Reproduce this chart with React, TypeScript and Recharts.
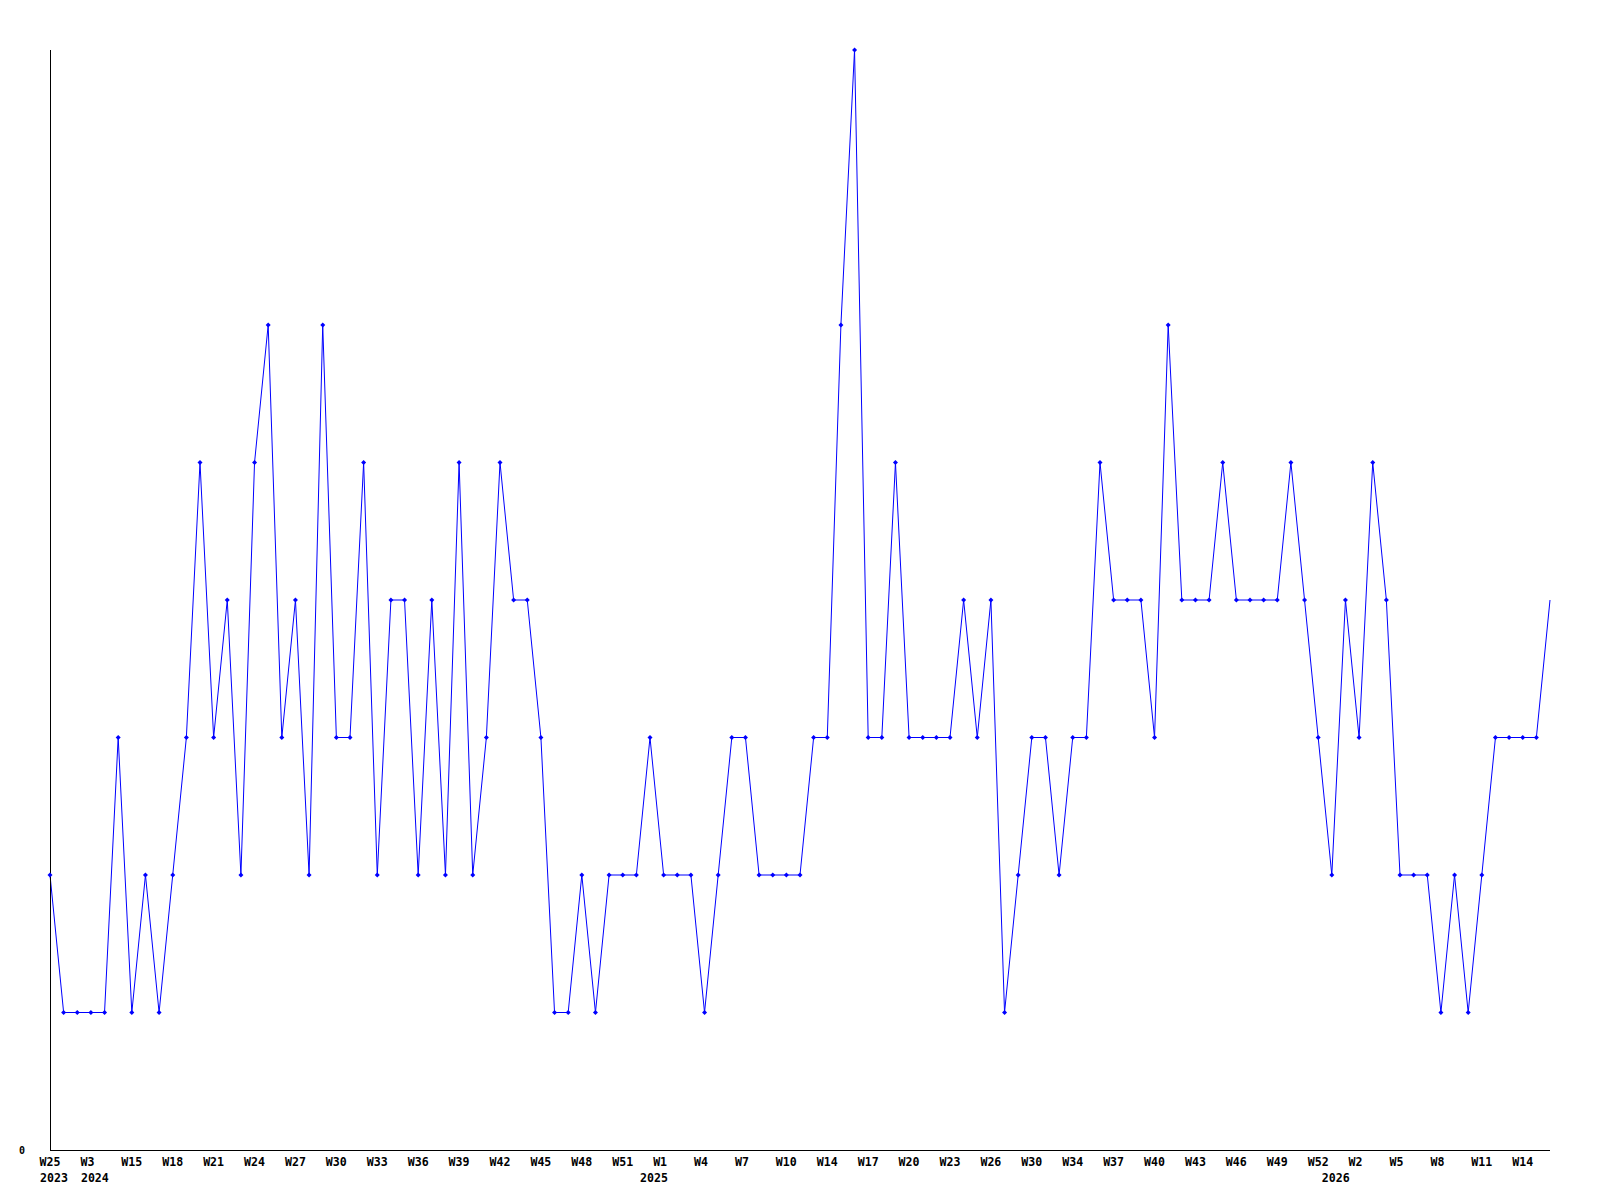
import React from "react";
import { LineChart, Line, XAxis, YAxis } from "recharts";

// Week categories (year-week), only every third is labelled on the axis
const categories: string[] = [
  "2023-W25", "2023-W30", "2023-W44",
  "2024-W3", "2024-W8", "2024-W12",
  "2024-W15", "2024-W16", "2024-W17", "2024-W18", "2024-W19", "2024-W20", "2024-W21", "2024-W22",
  "2024-W23", "2024-W24", "2024-W25", "2024-W26", "2024-W27", "2024-W28", "2024-W29", "2024-W30",
  "2024-W31", "2024-W32", "2024-W33", "2024-W34", "2024-W35", "2024-W36", "2024-W37", "2024-W38",
  "2024-W39", "2024-W40", "2024-W41", "2024-W42", "2024-W43", "2024-W44", "2024-W45", "2024-W46",
  "2024-W47", "2024-W48", "2024-W49", "2024-W50", "2024-W51", "2024-W52",
  "2025-W0", "2025-W1", "2025-W2", "2025-W3", "2025-W4", "2025-W5", "2025-W6", "2025-W7",
  "2025-W8", "2025-W9", "2025-W10", "2025-W11", "2025-W12", "2025-W14", "2025-W15", "2025-W16",
  "2025-W17", "2025-W18", "2025-W19", "2025-W20", "2025-W21", "2025-W22", "2025-W23", "2025-W24",
  "2025-W25", "2025-W26", "2025-W27", "2025-W28", "2025-W30", "2025-W31", "2025-W32", "2025-W34",
  "2025-W35", "2025-W36", "2025-W37", "2025-W38", "2025-W39", "2025-W40", "2025-W41", "2025-W42",
  "2025-W43", "2025-W44", "2025-W45", "2025-W46", "2025-W47", "2025-W48", "2025-W49", "2025-W50",
  "2025-W51", "2025-W52",
  "2026-W0", "2026-W1", "2026-W2", "2026-W3", "2026-W4", "2026-W5", "2026-W6", "2026-W7",
  "2026-W8", "2026-W9", "2026-W10", "2026-W11", "2026-W12", "2026-W13", "2026-W14", "2026-W15",
  "2026-W16",
];

const values: number[] = [
  2, 1, 1, 1, 1, 3, 1, 2, 1, 2,
  3, 5, 3, 4, 2, 5, 6, 3, 4, 2,
  6, 3, 3, 5, 2, 4, 4, 2, 4, 2,
  5, 2, 3, 5, 4, 4, 3, 1, 1, 2,
  1, 2, 2, 2, 3, 2, 2, 2, 1, 2,
  3, 3, 2, 2, 2, 2, 3, 3, 6, 8,
  3, 3, 5, 3, 3, 3, 3, 4, 3, 4,
  1, 2, 3, 3, 2, 3, 3, 5, 4, 4,
  4, 3, 6, 4, 4, 4, 5, 4, 4, 4,
  4, 5, 4, 3, 2, 4, 3, 5, 4, 2,
  2, 2, 1, 2, 1, 2, 3, 3, 3, 3, 4,
];

const yTicks: number[] = [0];
const labelEvery = 3;

const data = categories.map((c, i) => ({ key: c, value: values[i] }));

const FONT = "'DejaVu Sans Mono', 'Liberation Mono', monospace";
const BLUE = "#0000ff";

const yearOf = (c: string) => c.split("-")[0];
const weekOf = (c: string) => c.split("-")[1];

const XTick = (props: any) => {
  const { x, y, payload, index } = props;
  const cat: string = payload.value;
  const i = typeof index === "number" ? index : categories.indexOf(cat);
  const showWeek = i % labelEvery === 0;
  const showYear = i === 0 || yearOf(categories[i - 1]) !== yearOf(cat);
  return (
    <g>
      {showWeek && (
        <text x={x - 10.5} y={y + 16} textAnchor="start" fontFamily={FONT} fontWeight="bold" fontSize={11.6} fill="#000">
          {weekOf(cat)}
        </text>
      )}
      {showYear && (
        <text x={x - 10} y={y + 31.5} textAnchor="start" fontFamily={FONT} fontWeight="bold" fontSize={11.6} fill="#000">
          {yearOf(cat)}
        </text>
      )}
    </g>
  );
};

const YTick = (props: any) => {
  const { x, y, payload } = props;
  return (
    <text x={x} y={y} dy="0.35em" textAnchor="end" fontFamily={FONT} fontWeight="bold" fontSize={10} fill="#000">
      {payload.value}
    </text>
  );
};

const Dot = (props: any) => {
  const { cx, cy, index } = props;
  if (cx == null || cy == null || index === categories.length - 1) return <g key={`d-${index}`} />;
  const r = 2.5;
  return (
    <path
      key={`d-${index}`}
      d={`M${cx},${cy - r}L${cx + r},${cy}L${cx},${cy + r}L${cx - r},${cy}Z`}
      fill={BLUE}
      stroke="none"
    />
  );
};

export default function App() {
  return (
    <div style={{ position: "absolute", left: 0, top: 0, width: 1600, height: 1200, background: "#fff" }}>
      <LineChart width={1600} height={1200} data={data} margin={{ top: 50, right: 50, bottom: 0, left: 0 }}>
        <XAxis
          dataKey="key"
          type="category"
          interval={0}
          height={50}
          tickLine={false}
          tickSize={0}
          tickMargin={0}
          axisLine={{ stroke: "#000", strokeWidth: 1, shapeRendering: "crispEdges" } as any}
          tick={<XTick />}
          padding={{ left: 0, right: 0 }}
        />
        <YAxis
          type="number"
          domain={[0, 8]}
          ticks={yTicks}
          width={50}
          tickLine={false}
          tickSize={0}
          tickMargin={25}
          axisLine={{ stroke: "#000", strokeWidth: 1, shapeRendering: "crispEdges" } as any}
          tick={<YTick />}
          allowDecimals={false}
        />
        <Line
          type="linear"
          dataKey="value"
          stroke={BLUE}
          strokeWidth={1}
          dot={Dot}
          activeDot={false}
          isAnimationActive={false}
        />
      </LineChart>
    </div>
  );
}
